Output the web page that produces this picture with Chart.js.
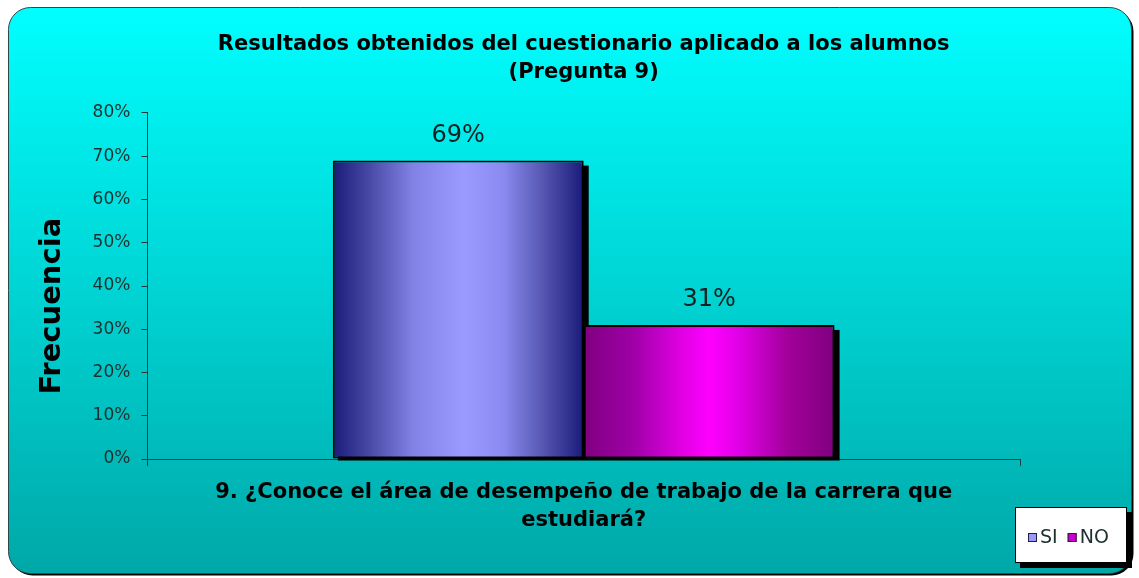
<!DOCTYPE html>
<html>
<head>
<meta charset="utf-8">
<script src="https://cdn.jsdelivr.net/npm/chart.js@4"></script>
<style>
  html, body { margin: 0; padding: 0; background: #fff; }
</style>
</head>
<body>
<canvas id="chart" width="1139" height="578"></canvas>
<script>
const titleLines = ["Resultados obtenidos del cuestionario aplicado a los alumnos", "(Pregunta 9)"];
const questionLines = ["9. ¿Conoce el área de desempeño de trabajo de la carrera que", "estudiará?"];
const categories = ["9"];
const seriesNames = ["SI", "NO"];
const seriesValues = [69, 31];
const yMax = 80;
const yStep = 10;

const barStops = [
  [[0, '#1a1a7a'], [0.15, '#4a4aa6'], [0.32, '#8282e6'], [0.52, '#9a9aff'], [0.68, '#8a8af0'], [0.84, '#5656b0'], [1, '#1a1a7a']],
  [[0, '#800080'], [0.2, '#a000a8'], [0.38, '#dd00e0'], [0.5, '#ff00ff'], [0.62, '#e000e6'], [0.82, '#a00098'], [1, '#800080']]
];
const legendFill = ['#9999ff', '#cc00cc'];

const frame = {
  id: 'frame',
  beforeDraw(chart) {
    const ctx = chart.ctx;
    ctx.save();
    ctx.fillStyle = '#fff';
    ctx.fillRect(0, 0, chart.width, chart.height);
    ctx.fillStyle = '#000';
    ctx.beginPath();
    ctx.roundRect(10.5, 9.5, 1123, 566, 22);
    ctx.fill();
    const g = ctx.createLinearGradient(0, 7, 0, 573);
    g.addColorStop(0, '#00ffff');
    g.addColorStop(1, '#00a8a8');
    ctx.fillStyle = g;
    ctx.beginPath();
    ctx.roundRect(8.5, 7.5, 1123, 566, 22);
    ctx.fill();
    ctx.strokeStyle = '#2a4a4a';
    ctx.lineWidth = 1;
    ctx.stroke();
    ctx.restore();
  }
};

const bars3d = {
  id: 'bars3d',
  beforeDatasetsDraw(chart) {
    const ctx = chart.ctx;
    ctx.save();
    chart.data.datasets.forEach((ds, i) => {
      chart.getDatasetMeta(i).data.forEach(el => {
        const {x, y, width, base} = el.getProps(['x', 'y', 'width', 'base'], true);
        const left = x - width / 2;
        // shadow on the right side
        ctx.fillStyle = '#000';
        ctx.fillRect(left + 5, y + 5, width, base - y - 3);
        const g = ctx.createLinearGradient(left, 0, left + width, 0);
        barStops[i].forEach(s => g.addColorStop(s[0], s[1]));
        el.options.backgroundColor = g;
      });
    });
    ctx.restore();
  },
  afterDatasetsDraw(chart) {
    const ctx = chart.ctx;
    ctx.save();
    ctx.font = '24px "DejaVu Sans"';
    ctx.fillStyle = '#102020';
    ctx.textAlign = 'center';
    ctx.textBaseline = 'middle';
    chart.data.datasets.forEach((ds, i) => {
      chart.getDatasetMeta(i).data.forEach((el, j) => {
        ctx.fillText(ds.data[j] + '%', el.x, el.y - 25);
      });
    });
    ctx.restore();
  },
  afterDraw(chart) {
    const ctx = chart.ctx;
    ctx.save();
    const bx = 1015, by = 507, bw = 112, bh = 56;
    ctx.fillStyle = '#000';
    ctx.fillRect(bx + 5, by + 5, bw, bh);
    ctx.fillStyle = '#fff';
    ctx.fillRect(bx, by, bw, bh);
    ctx.strokeStyle = '#000';
    ctx.lineWidth = 1;
    ctx.strokeRect(bx + 0.5, by + 0.5, bw - 1, bh - 1);
    ctx.font = '19px "DejaVu Sans"';
    ctx.textBaseline = 'middle';
    let x = bx + 13;
    const cy = by + 31;
    chart.data.datasets.forEach((ds, i) => {
      ctx.fillStyle = legendFill[i];
      ctx.fillRect(x, cy - 5, 9, 9);
      ctx.strokeStyle = '#202040';
      ctx.strokeRect(x + 0.5, cy - 4.5, 8, 8);
      ctx.fillStyle = '#203030';
      ctx.fillText(ds.label, x + 12, cy);
      x += 12 + ctx.measureText(ds.label).width + 10;
    });
    ctx.restore();
  }
};

const axisColor = '#223a3a';

new Chart(document.getElementById('chart'), {
  type: 'bar',
  data: {
    labels: categories,
    datasets: seriesNames.map((name, i) => ({
      label: name,
      data: [seriesValues[i]],
      backgroundColor: legendFill[i],
      borderColor: '#000',
      borderWidth: 2,
      borderSkipped: false,
      categoryPercentage: 0.575,
      barPercentage: 1.0
    }))
  },
  options: {
    responsive: false,
    animation: false,
    layout: { padding: { left: 10, right: 119, top: 10, bottom: 43 } },
    plugins: {
      legend: { display: false },
      tooltip: { enabled: false },
      title: {
        display: true,
        fullSize: false,
        text: titleLines,
        color: '#000',
        font: { family: 'DejaVu Sans', size: 21, weight: 'bold', lineHeight: 1.333 },
        padding: { top: 21, bottom: 26 }
      }
    },
    scales: {
      x: {
        ticks: { display: false },
        grid: { display: true, drawOnChartArea: false, drawTicks: true, tickLength: 7, color: axisColor },
        border: { display: true, color: axisColor, width: 1 },
        title: {
          display: true,
          text: questionLines,
          color: '#000',
          font: { family: 'DejaVu Sans', size: 21, weight: 'bold', lineHeight: 1.333 },
          padding: { top: 13, bottom: 0 }
        }
      },
      y: {
        min: 0,
        max: yMax,
        ticks: {
          stepSize: yStep,
          padding: 11,
          color: '#1c3030',
          font: { family: 'DejaVu Sans', size: 17 },
          callback: v => v + '%'
        },
        grid: { display: true, drawOnChartArea: false, drawTicks: true, tickLength: 6, color: axisColor },
        border: { display: true, color: axisColor, width: 1 },
        title: {
          display: true,
          text: 'Frecuencia    ',
          color: '#000',
          font: { family: 'DejaVu Sans', size: 29, weight: 'bold', lineHeight: 1.2 },
          padding: { top: 25, bottom: 11.8 }
        }
      }
    }
  },
  plugins: [frame, bars3d]
});
</script>
</body>
</html>
